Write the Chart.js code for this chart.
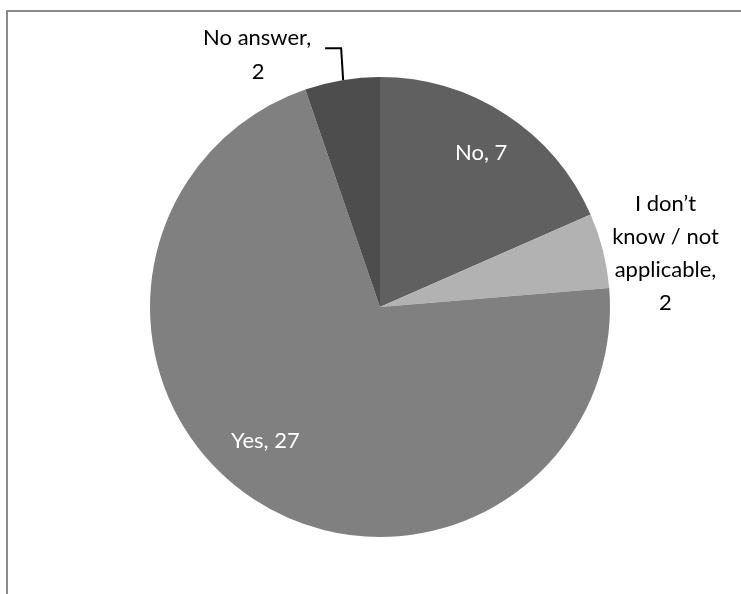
<!DOCTYPE html>
<html>
<head>
<meta charset="utf-8">
<script src="https://cdn.jsdelivr.net/npm/chart.js@4.4.0/dist/chart.umd.min.js"></script>
<style>
  html, body { margin: 0; padding: 0; background: #ffffff; }
  #wrap { position: relative; width: 741px; height: 594px; overflow: hidden; }
  #frame { position: absolute; left: 6px; top: 10px; width: 800px; height: 700px;
           border-left: 2px solid #8a8a8a; border-top: 2px solid #8a8a8a; }
  canvas { position: absolute; left: 0; top: 0; }
</style>
</head>
<body>
<div id="wrap">
  <div id="frame"></div>
  <canvas id="c" width="741" height="594"></canvas>
</div>
<script>
const categories = ["No", "I don\u2019t know / not applicable", "Yes", "No answer"];
const values = [7, 2, 27, 2];
const colors = ["#606060", "#b2b2b2", "#808080", "#4d4d4d"];

const FONT = "Lato, 'Open Sans', sans-serif";

const labelPlugin = {
  id: 'sliceLabels',
  afterDraw(chart) {
    const ctx = chart.ctx;
    const meta = chart.getDatasetMeta(0);
    ctx.save();
    ctx.font = "22px " + FONT;
    ctx.textAlign = 'center';
    ctx.textBaseline = 'middle';
    meta.data.forEach((arc, i) => {
      const p = arc.getProps(['x', 'y', 'startAngle', 'endAngle', 'outerRadius'], true);
      const mid = (p.startAngle + p.endAngle) / 2;
      const R = p.outerRadius;
      const v = values[i];
      if (i === 0) {
        const r = R * 0.78;
        ctx.fillStyle = '#ffffff';
        ctx.fillText(categories[i] + ', ' + v, p.x + r * Math.cos(mid) + 3, p.y + r * Math.sin(mid) - 4);
      } else if (i === 2) {
        const r = R * 0.77;
        ctx.fillStyle = '#ffffff';
        ctx.fillText(categories[i] + ', ' + v, p.x + r * Math.cos(mid + 0.14) + 2, p.y + r * Math.sin(mid + 0.14) + 1);
      } else if (i === 1) {
        ctx.fillStyle = '#000000';
        const cx = p.x + R * 1.24 * Math.cos(mid) + 9;
        const cy = p.y + R * 1.24 * Math.sin(mid) + 16;
        const lines = ["I don\u2019t", "know / not", "applicable,", String(v)];
        const lh = 33;
        lines.forEach((t, k) => ctx.fillText(t, cx, cy + (k - 1.5) * lh));
      } else if (i === 3) {
        ctx.fillStyle = '#000000';
        const ex = p.x + R * Math.cos(mid);
        const ey = p.y + R * Math.sin(mid);
        ctx.fillText("No answer,", ex - 85, ey - 42);
        ctx.fillText(String(v), ex - 84, ey - 8);
        ctx.strokeStyle = '#000000';
        ctx.lineWidth = 2;
        ctx.beginPath();
        ctx.moveTo(ex - 17, ey - 32);
        ctx.lineTo(ex - 1, ey - 32);
        ctx.lineTo(ex + 1, ey);
        ctx.stroke();
      }
    });
    ctx.restore();
  }
};

new Chart(document.getElementById('c'), {
  type: 'pie',
  data: {
    labels: categories,
    datasets: [{
      data: values,
      backgroundColor: colors,
      borderWidth: 0
    }]
  },
  options: {
    responsive: false,
    animation: false,
    events: [],
    layout: { padding: { top: 77, bottom: 57, left: 19, right: 0 } },
    plugins: { legend: { display: false }, tooltip: { enabled: false } }
  },
  plugins: [labelPlugin]
});
</script>
</body>
</html>
